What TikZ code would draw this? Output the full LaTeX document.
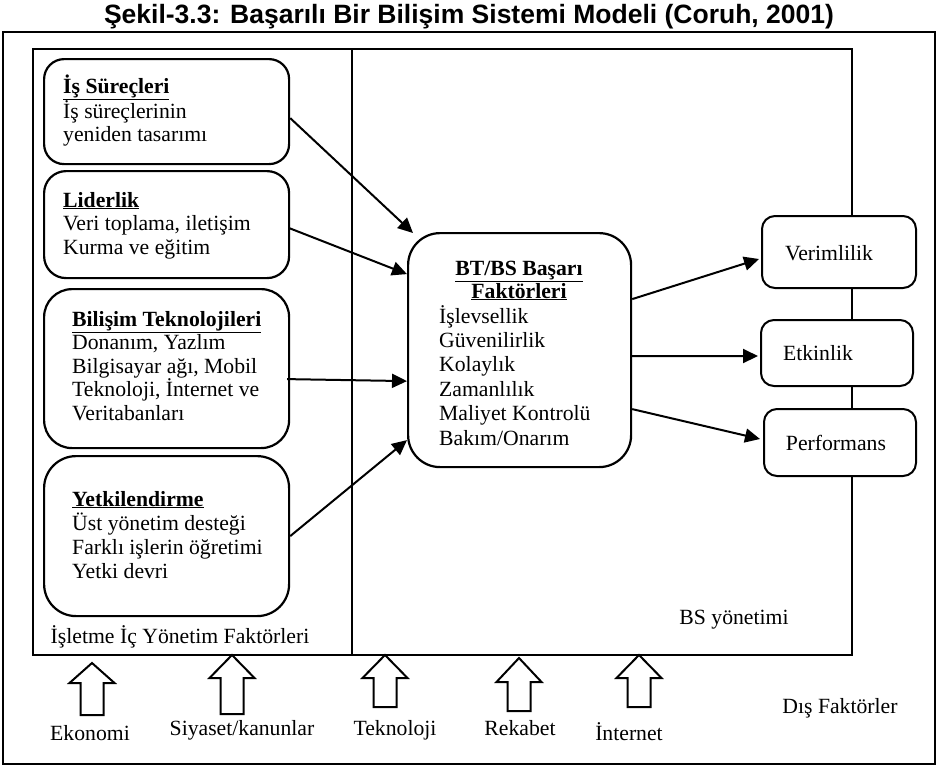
\documentclass[tikz,border=0pt]{standalone}
\usepackage{fontspec}
\setmainfont{Liberation Serif}
\newfontfamily\titlefont{Liberation Sans}
\usetikzlibrary{arrows.meta,calc}
\newcommand{\stackL}[2]{\vtop{\baselineskip=#1\relax\halign{##\hfil\cr#2\crcr}}}
\newcommand{\stackC}[2]{\vtop{\baselineskip=#1\relax\halign{\hfil##\hfil\cr#2\crcr}}}
\newcommand{\hd}[1]{\textbf{\underline{#1}}}
\newcommand{\blockarrow}[4]{\draw[barrow] (#1,#2) -- (#1+22.5,#3) -- (#1+11.5,#3) -- (#1+11.5,#4) -- (#1-11.5,#4) -- (#1-11.5,#3) -- (#1-22.5,#3) -- cycle;}
\tikzset{
  lbox/.style={draw, line width=2.2pt, fill=white, inner sep=0pt, anchor=north west},
  rbox/.style={draw, line width=2pt, rounded corners=13pt, fill=white, inner sep=0pt, anchor=north west},
  txt/.style={inner sep=0pt, font=\fontsize{21.7}{24}\selectfont},
  conn/.style={line width=2pt, -{Triangle[length=15pt,width=14pt]}},
  barrow/.style={draw, line width=2pt, fill=white, line join=miter},
}
\begin{document}
\begin{tikzpicture}[x=1pt, y=-1pt]
\useasboundingbox (0,0) rectangle (939,766);
% title and frame
\node[inner sep=0pt, font=\titlefont\bfseries\fontsize{26.5}{29}\selectfont] (title) at (469,17) {Şekil-3.3: Başarılı Bir Bilişim Sistemi Modeli (Coruh, 2001)};
\draw[line width=2.5pt] (3,32) rectangle (935,764);
% inner management box
\draw[line width=1.2pt] (33,49) rectangle (852,655);
\draw[line width=2pt] (352,49) -- (352,655);
% left boxes
\node[lbox, rounded corners=20pt, minimum width=245pt, minimum height=105pt] (is) at (43,58) {};
\node[lbox, rounded corners=22pt, minimum width=245pt, minimum height=107pt] (ld) at (43,170) {};
\node[lbox, rounded corners=28pt, minimum width=245pt, minimum height=159pt] (bi) at (43,288) {};
\node[lbox, rounded corners=32pt, minimum width=245pt, minimum height=160pt] (yk) at (43,455) {};
\node[txt, anchor=base west] (ist) at (63,93) {\stackL{23.3pt}{\hd{İş Süreçleri}\cr İş süreçlerinin\cr yeniden tasarımı}};
\node[txt, anchor=base west] (ldt) at (63,207) {\stackL{23.5pt}{\hd{Liderlik}\cr Veri toplama, iletişim\cr Kurma ve eğitim}};
\node[txt, anchor=base west] (bit) at (72,326) {\stackL{23.5pt}{\hd{Bilişim Teknolojileri}\cr Donanım, Yazlım\cr Bilgisayar ağı, Mobil\cr Teknoloji, İnternet ve\cr Veritabanları}};
\node[txt, anchor=base west] (ykt) at (72,506) {\stackL{24.3pt}{\hd{Yetkilendirme}\cr Üst yönetim desteği\cr Farklı işlerin öğretimi\cr Yetki devri}};
% center box
\node[lbox, line width=2.2pt, rounded corners=32pt, minimum width=223pt, minimum height=234pt] (bt) at (407,232) {};
\node[txt, anchor=base] (btt) at (519,275) {\stackC{23pt}{\hd{BT/BS Başarı}\cr\hd{Faktörleri}}};
\node[txt, anchor=base west] (bti) at (439,323) {\stackL{24.4pt}{İşlevsellik\cr Güvenilirlik\cr Kolaylık\cr Zamanlılık\cr Maliyet Kontrolü\cr Bakım/Onarım}};
% right boxes
\node[rbox, minimum width=154pt, minimum height=72pt] (ve) at (761,215) {};
\node[rbox, minimum width=152pt, minimum height=66pt] (et) at (760,319) {};
\node[rbox, minimum width=152pt, minimum height=67pt] (pf) at (763,408) {};
\node[txt] (vet) at (829,253) {Verimlilik};
\node[txt] (ett) at (818,353) {Etkinlik};
\node[txt] (pft) at (836,443) {Performans};
% connectors
\draw[conn] ($(is.east)+(0,6.5)$) -- ($(bt.north west)+(6,1)$);
\draw[conn] ($(ld.east)+(-1,3.5)$) -- ($(bt.west)+(0,-76)$);
\draw[conn] ($(bi.east)+(-3,10.5)$) -- ($(bt.west)+(0,31)$);
\draw[conn] (yk.east) -- ($(bt.west)+(0,90)$);
\draw[conn] ($(bt.east)+(0,-51)$) -- ($(ve.west)+(-2,7)$);
\draw[conn] ($(bt.east)+(0,6)$) -- ($(et.west)+(-2,3)$);
\draw[conn] ($(bt.east)+(0,59)$) -- ($(pf.west)+(-3,-3.5)$);
% labels
\node[txt] (ic) at (180,637) {İşletme İç Yönetim Faktörleri};
\node[txt] (bs) at (734,620) {BS yönetimi};
\node[txt] (dis) at (840,708) {Dış Faktörler};
% external factors
\blockarrow{92}{663}{683}{715}
\blockarrow{232}{655}{678}{714}
\blockarrow{385}{655}{678}{707}
\blockarrow{519}{658}{682}{711}
\blockarrow{639}{655}{678}{707}
\node[txt] (ek) at (90,733) {Ekonomi};
\node[txt] (si) at (242,730) {Siyaset/kanunlar};
\node[txt] (te) at (395,730) {Teknoloji};
\node[txt] (re) at (520,728) {Rekabet};
\node[txt] (in) at (629,732) {İnternet};
\end{tikzpicture}
\end{document}
